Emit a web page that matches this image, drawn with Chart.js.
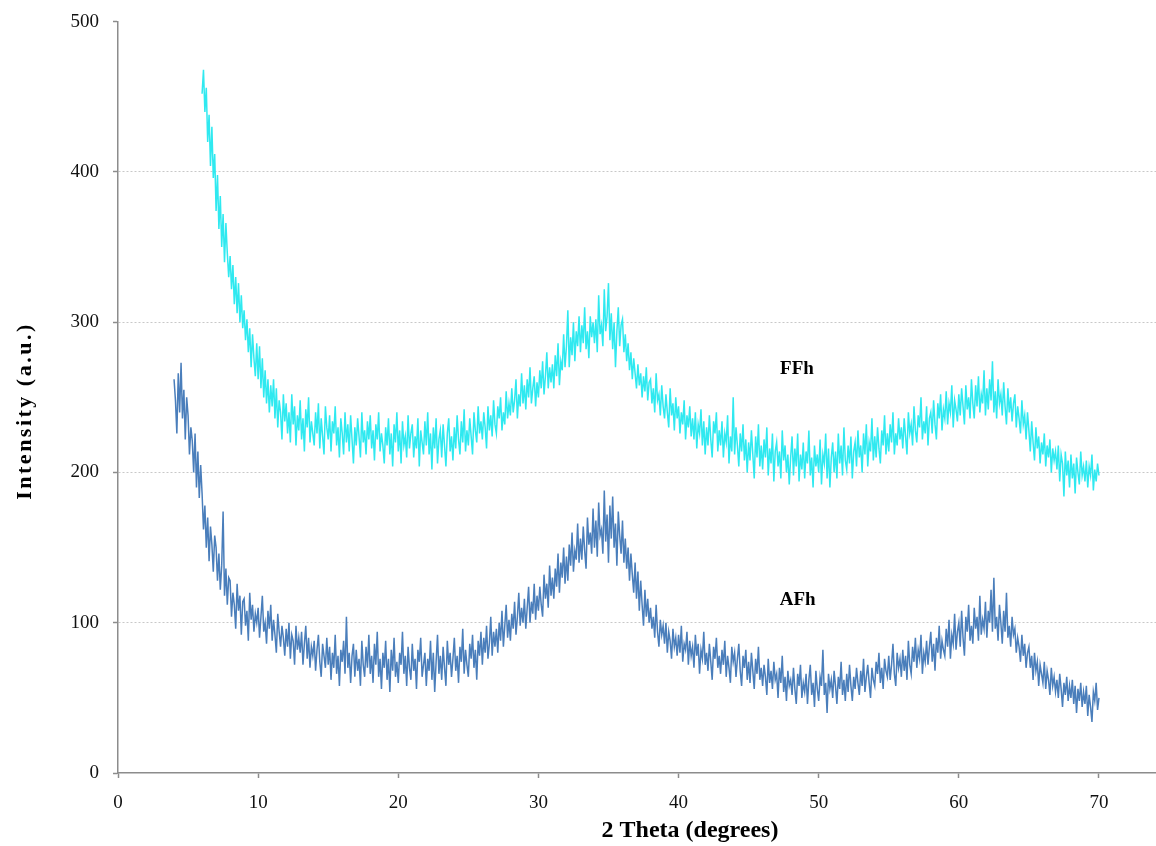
<!DOCTYPE html>
<html>
<head>
<meta charset="utf-8">
<script src="https://cdn.jsdelivr.net/npm/chart.js@4.4.0/dist/chart.umd.min.js"></script>
<style>
  html, body { margin: 0; padding: 0; background: #fff; }
</style>
</head>
<body>
<canvas id="xrdChart" width="1156" height="846"></canvas>
<script>
// scan step (degrees 2θ) and start angle of each pattern
const scanStep = 0.1;
const afhStart = 4.0;
const ffhStart = 6.0;

// AFh intensities, 4.0 → 70.0 deg, one row per degree
const afhValues = [
  262, 248, 226, 266, 240, 273, 236, 255, 222, 250,
  238, 212, 230, 221, 200, 226, 190, 214, 183, 205,
  186, 162, 178, 150, 170, 141, 164, 152, 134, 158,
  150, 128, 146, 122, 138, 174, 118, 136, 112, 130,
  128, 104, 120, 112, 96, 126, 108, 118, 92, 114,
  116, 98, 108, 88, 120, 102, 112, 94, 106, 100,
  110, 90, 104, 118, 94, 100, 86, 108, 96, 112,
  88, 102, 92, 80, 106, 94, 84, 98, 90, 78,
  96, 84, 100, 76, 92, 88, 72, 98, 82, 90,
  80, 94, 72, 86, 98, 76, 90, 70, 84, 78,
  88, 68, 82, 92, 74, 64, 86, 78, 70, 90,
  72, 84, 62, 80, 70, 92, 66, 78, 58, 82,
  74, 88, 66, 104, 70, 80, 60, 78, 86, 64,
  82, 68, 76, 58, 88, 72, 64, 84, 70, 92,
  66, 78, 60, 86, 72, 94, 64, 76, 56, 80,
  70, 88, 62, 76, 54, 82, 68, 90, 64, 74,
  60, 80, 72, 94, 66, 78, 58, 84, 70, 62,
  86, 68, 76, 56, 82, 74, 90, 64, 72, 80,
  58, 76, 68, 88, 62, 80, 54, 74, 92, 66,
  78, 62, 84, 70, 58, 88, 72, 80, 64, 76,
  90, 68, 78, 60, 84, 74, 96, 66, 82, 72,
  64, 86, 76, 92, 70, 82, 62, 88, 78, 94,
  72, 90, 80, 98, 76, 86, 104, 78, 94, 84,
  96, 80, 100, 88, 108, 84, 98, 112, 90, 102,
  88, 106, 96, 114, 92, 104, 120, 98, 110, 100,
  116, 96, 110, 124, 100, 114, 106, 126, 102, 118,
  108, 124, 112, 104, 132, 116, 126, 110, 138, 118,
  130, 116, 136, 124, 146, 120, 140, 130, 150, 126,
  144, 128, 152, 138, 160, 134, 148, 142, 166, 140,
  156, 142, 164, 148, 136, 170, 152, 160, 146, 176,
  150, 168, 144, 180, 158, 162, 146, 188, 154, 172,
  140, 178, 156, 184, 150, 166, 138, 174, 158, 146,
  168, 140, 156, 136, 150, 128, 146, 132, 120, 140,
  116, 134, 108, 128, 112, 98, 122, 104, 116, 100,
  110, 96, 104, 90, 112, 94, 84, 102, 92, 98,
  86, 100, 80, 94, 88, 76, 96, 84, 90, 78,
  92, 80, 98, 74, 86, 82, 94, 72, 88, 78,
  84, 70, 92, 78, 86, 66, 82, 76, 94, 72,
  80, 68, 86, 74, 62, 84, 76, 90, 70, 78,
  66, 82, 72, 88, 64, 78, 70, 60, 84, 74,
  80, 64, 76, 86, 68, 58, 78, 70, 82, 62,
  74, 60, 80, 68, 56, 76, 66, 84, 62, 70,
  58, 72, 64, 52, 76, 60, 68, 56, 74, 62,
  66, 50, 70, 60, 78, 54, 64, 48, 68, 58,
  62, 52, 70, 56, 46, 66, 58, 72, 50, 60,
  54, 66, 46, 62, 72, 52, 60, 44, 68, 56,
  48, 64, 58, 82, 52, 60, 40, 66, 56, 62,
  50, 68, 58, 46, 64, 56, 74, 52, 62, 48,
  66, 54, 72, 58, 48, 64, 56, 70, 60, 52,
  68, 58, 76, 54, 64, 72, 60, 50, 70, 62,
  58, 74, 66, 80, 60, 70, 56, 76, 68, 64,
  78, 62, 72, 86, 66, 58, 80, 70, 76, 64,
  82, 68, 78, 62, 88, 72, 66, 84, 74, 90,
  70, 82, 76, 92, 66, 80, 74, 88, 72, 84,
  94, 74, 86, 68, 90, 80, 98, 76, 88, 82,
  78, 96, 84, 102, 76, 92, 86, 106, 82, 94,
  100, 84, 108, 90, 78, 104, 94, 112, 88, 98,
  86, 110, 96, 104, 88, 118, 92, 102, 96, 114,
  90, 108, 100, 122, 94, 130, 96, 104, 88, 112,
  100, 86, 108, 94, 120, 90, 98, 84, 104, 92,
  96, 80, 90, 84, 74, 92, 78, 86, 70, 80,
  84, 70, 78, 62, 80, 68, 74, 58, 72, 66,
  60, 74, 56, 68, 62, 52, 70, 58, 64, 54,
  62, 50, 66, 56, 44, 60, 52, 64, 48, 58,
  50, 62, 46, 58, 40, 56, 48, 60, 44, 54,
  46, 58, 38, 52, 44, 34, 54, 48, 60, 42,
  50
];

// FFh intensities, 6.0 → 70.0 deg, one row per degree
const ffhValues = [
  452, 468, 440, 456, 420, 438, 404, 430, 396, 412,
  374, 398, 362, 384, 350, 372, 340, 366, 346, 330,
  344, 322, 338, 312, 330, 306, 326, 300, 318, 296,
  308, 288, 302, 280, 296, 270, 292, 276, 264, 286,
  262, 284, 256, 276, 250, 268, 246, 262, 240, 258,
  244, 262, 236, 256, 230, 248, 240, 222, 252, 234,
  246, 226, 240, 220, 252, 232, 244, 218, 238, 228,
  248, 222, 236, 214, 242, 230, 250, 220, 234, 226,
  218, 240, 226, 246, 216, 236, 224, 212, 244, 230,
  222, 238, 214, 234, 226, 244, 218, 230, 210, 236,
  226, 212, 240, 220, 232, 214, 238, 222, 206, 230,
  218, 236, 224, 210, 240, 220, 228, 212, 234, 222,
  238, 216, 228, 208, 232, 222, 240, 214, 226, 218,
  206, 230, 218, 236, 212, 226, 204, 232, 220, 240,
  214, 228, 206, 234, 218, 224, 210, 238, 216, 226,
  232, 210, 224, 216, 236, 204, 228, 220, 212, 234,
  218, 240, 212, 226, 202, 230, 216, 236, 206, 222,
  228, 210, 232, 218, 204, 226, 236, 214, 224, 208,
  230, 216, 238, 222, 212, 234, 220, 242, 214, 228,
  218, 236, 224, 212, 240, 228, 220, 244, 226, 234,
  222, 240, 230, 216, 244, 228, 238, 224, 248, 232,
  226, 244, 236, 250, 228, 240, 232, 254, 236, 246,
  238, 256, 240, 248, 262, 236, 252, 244, 266, 246,
  258, 242, 262, 250, 270, 246, 256, 264, 244, 260,
  250, 268, 256, 274, 252, 264, 280, 256, 270, 260,
  272, 256, 278, 264, 286, 258, 274, 268, 292, 270,
  284, 308, 270, 290, 278, 300, 274, 294, 284, 304,
  280, 298, 286, 310, 282, 294, 276, 304, 290, 300,
  286, 302, 280, 318, 292, 298, 284, 322, 294, 304,
  326, 288, 306, 282, 300, 270, 294, 310, 284, 298,
  302, 280, 292, 274, 286, 268, 280, 262, 276, 266,
  256, 272, 258, 266, 250, 264, 254, 270, 248, 260,
  262, 246, 256, 240, 266, 248, 252, 238, 258, 244,
  236, 252, 240, 230, 256, 238, 246, 228, 250, 236,
  244, 226, 240, 232, 248, 222, 238, 230, 244, 224,
  236, 222, 240, 216, 232, 226, 242, 218, 234, 212,
  230, 218, 238, 222, 210, 234, 226, 240, 214, 228,
  218, 234, 210, 226, 220, 238, 206, 224, 214, 250,
  212, 230, 218, 204, 226, 214, 232, 208, 222, 200,
  220, 208, 228, 212, 196, 224, 210, 232, 204, 218,
  202, 222, 210, 230, 198, 216, 206, 226, 194, 214,
  220, 204, 214, 196, 228, 208, 218, 200, 212, 192,
  210, 224, 198, 216, 204, 226, 194, 212, 202, 220,
  196, 214, 206, 228, 198, 210, 190, 218, 204, 212,
  200, 222, 192, 212, 206, 226, 196, 216, 190, 210,
  220, 200, 214, 196, 226, 206, 218, 198, 230, 208,
  202, 218, 206, 224, 196, 214, 220, 204, 228, 210,
  218, 200, 226, 212, 232, 204, 220, 214, 236, 208,
  224, 210, 230, 216, 206, 228, 218, 238, 212, 226,
  214, 232, 220, 240, 212, 226, 218, 236, 222, 230,
  216, 236, 224, 212, 240, 226, 232, 218, 244, 228,
  220, 238, 230, 250, 222, 234, 226, 244, 218, 236,
  240, 226, 248, 232, 222, 246, 236, 252, 228, 242,
  236, 254, 232, 246, 240, 258, 230, 248, 242, 234,
  252, 238, 256, 244, 232, 258, 242, 250, 236, 262,
  246, 236, 258, 244, 264, 240, 252, 246, 268, 238,
  256, 242, 262, 248, 274, 240, 254, 236, 262, 246,
  252, 238, 260, 244, 232, 256, 240, 250, 234, 246,
  252, 230, 244, 236, 226, 248, 232, 238, 222, 240,
  228, 214, 234, 220, 208, 230, 216, 224, 206, 220,
  212, 226, 204, 218, 210, 222, 200, 216, 208, 214,
  202, 218, 194, 212, 206, 184, 214, 198, 208, 190,
  212, 196, 206, 186, 210, 200, 192, 214, 198, 204,
  194, 208, 190, 204, 198, 212, 188, 202, 194, 206,
  198
];

const xTicks = [0, 10, 20, 30, 40, 50, 60, 70];
const yTicks = [0, 100, 200, 300, 400, 500];
const seriesNames = ['FFh', 'AFh'];
// where the two pattern names sit, in data units (deg, intensity)
const nameAnchors = [[48.45, 268.6], [48.5, 115]];

const serif = '"Liberation Serif", "Times New Roman", serif';

function toPoints(start, values) {
  return values.map((v, i) => ({ x: +(start + i * scanStep).toFixed(2), y: v }));
}

const textPlugin = {
  id: 'xrdText',
  afterDraw(chart) {
    const { ctx } = chart;
    const { x, y } = chart.scales;
    ctx.save();
    ctx.fillStyle = '#000';
    ctx.textAlign = 'center';
    ctx.textBaseline = 'middle';

    ctx.font = 'bold 19px ' + serif;
    seriesNames.forEach((name, i) => {
      ctx.fillText(name, x.getPixelForValue(nameAnchors[i][0]), y.getPixelForValue(nameAnchors[i][1]));
    });

    ctx.font = 'bold 24px ' + serif;
    ctx.fillText('2 Theta (degrees)', 690, 831);

    ctx.translate(25, 411);
    ctx.rotate(-Math.PI / 2);
    ctx.font = 'bold 22px ' + serif;
    ctx.letterSpacing = '2.5px';
    ctx.fillText('Intensity (a.u.)', 0, 0);
    ctx.restore();
  }
};

new Chart(document.getElementById('xrdChart'), {
  type: 'line',
  data: {
    datasets: [
      {
        label: seriesNames[0],
        data: toPoints(ffhStart, ffhValues),
        borderColor: '#2fe9f0',
        borderWidth: 1.5,
        pointRadius: 0,
        tension: 0,
        fill: false
      },
      {
        label: seriesNames[1],
        data: toPoints(afhStart, afhValues),
        borderColor: '#4a7ebb',
        borderWidth: 1.5,
        pointRadius: 0,
        tension: 0,
        fill: false
      }
    ]
  },
  options: {
    responsive: false,
    animation: false,
    layout: { padding: { top: 21.7, right: 0, bottom: 0, left: 0 } },
    plugins: { legend: { display: false }, tooltip: { enabled: false } },
    scales: {
      x: {
        type: 'linear',
        min: 0,
        max: 74.07,
        afterBuildTicks: (scale) => { scale.ticks = xTicks.map(v => ({ value: v })); },
        afterFit: (scale) => { scale.height = 73; },
        border: { color: '#8c8c8c', width: 1.5 },
        grid: { drawOnChartArea: false, tickLength: 5, tickColor: '#8c8c8c', tickWidth: 1.5 },
        ticks: { color: '#111', padding: 14, maxRotation: 0, font: { family: serif, size: 19 } }
      },
      y: {
        min: 0,
        max: 500,
        afterBuildTicks: (scale) => { scale.ticks = yTicks.map(v => ({ value: v })); },
        afterFit: (scale) => {
          scale.width = 118;
          scale.paddingTop = 0;
          scale.paddingBottom = 0;
        },
        border: { color: '#8c8c8c', width: 1.5, dash: [2, 2] },
        grid: {
          color: (c) => (c.tick && c.tick.value > 0 && c.tick.value < 500) ? '#c8c8c8' : 'rgba(0,0,0,0)',
          lineWidth: 1,
          tickLength: 5,
          tickColor: '#8c8c8c',
          tickWidth: 1.5
        },
        ticks: { color: '#111', padding: 14, font: { family: serif, size: 19 } }
      }
    }
  },
  plugins: [textPlugin]
});
</script>
</body>
</html>
